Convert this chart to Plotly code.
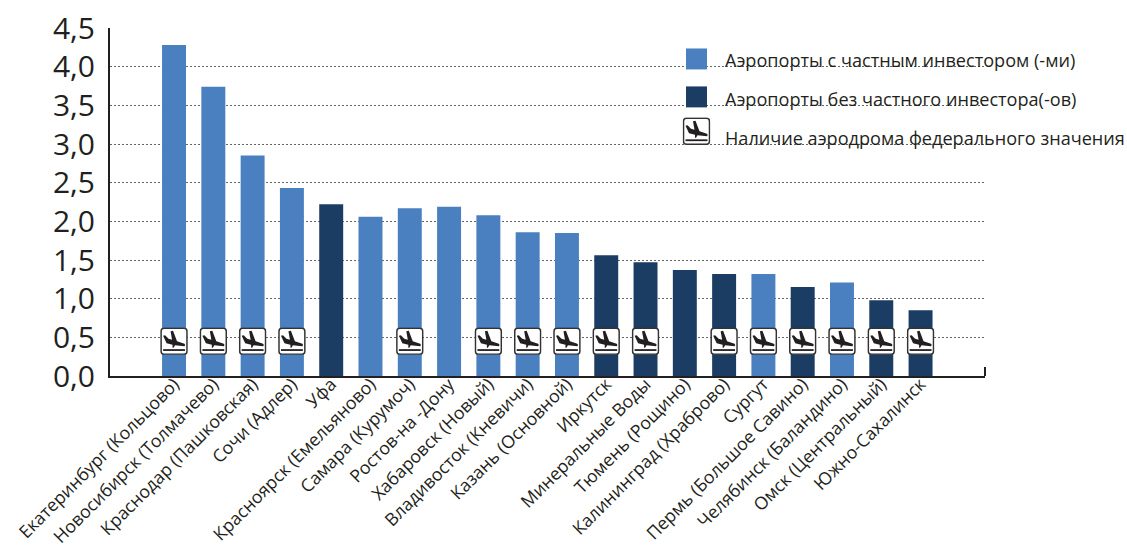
import base64
import plotly.graph_objects as go

airports = ["Екатеринбург (Кольцово)", "Новосибирск (Толмачево)", "Краснодар (Пашковская)", "Сочи (Адлер)", "Уфа",
            "Красноярск (Емельяново)", "Самара (Курумоч)", "Ростов-на -Дону", "Хабаровск (Новый)", "Владивосток (Кневичи)",
            "Казань (Основной)", "Иркутск", "Минеральные Воды", "Тюмень (Рощино)", "Калининград (Храброво)",
            "Сургут", "Пермь (Большое Савино)", "Челябинск (Баландино)", "Омск (Центральный)", "Южно-Сахалинск"]
values = [4.28, 3.74, 2.85, 2.43, 2.22, 2.06, 2.17, 2.19, 2.08, 1.86, 1.85, 1.56, 1.47, 1.37, 1.32, 1.32, 1.15, 1.21, 0.98, 0.85]
private = [1, 1, 1, 1, 0, 1, 1, 1, 1, 1, 1, 0, 0, 0, 0, 1, 0, 1, 0, 0]
federal = [1, 1, 1, 1, 0, 0, 1, 0, 1, 1, 1, 1, 1, 0, 1, 1, 1, 1, 1, 1]
y_ticks = [0, 0.5, 1, 1.5, 2, 2.5, 3, 3.5, 4, 4.5]
y_labels = ["0,0", "0,5", "1,0", "1,5", "2,0", "2,5", "3,0", "3,5", "4,0", "4,5"]
legend_labels = ["Аэропорты с частным инвестором (-ми)", "Аэропорты без частного инвестора(-ов)",
                 "Наличие аэродрома федерального значения"]

BLUE, NAVY, INK = "#4a80c0", "#1b3d63", "#231f20"
FONT = "Open Sans"

ICON = ('<svg xmlns="http://www.w3.org/2000/svg" viewBox="0 0 28 28">'
        '<rect x="1" y="1" width="26" height="26" rx="3" fill="white" stroke="#333333" stroke-width="1.5"/>'
        '<path d="M3 8.5 L5 8 L8.5 11.5 L12 12.5 L10.5 4 L13 3.5 L17 14 L24.5 16.5 '
        'Q26 18 24.5 19 L15 18 L13.5 20.5 L12.5 20.5 L12.5 17.5 L6.5 16 Z" fill="#231f20"/>'
        '<rect x="3" y="22" width="22" height="1.8" fill="#231f20"/></svg>')
ICON_URI = "data:image/svg+xml;base64," + base64.b64encode(ICON.encode()).decode()

W, H = 1127, 550
L, R, T, B = 110, 985, 27.5, 376

fig = go.Figure(go.Bar(x=airports, y=values, width=0.61,
                       marker=dict(color=[BLUE if p else NAVY for p in private], line_width=0),
                       showlegend=False, hoverinfo="x+y"))

images = [dict(source=ICON_URI, xref="x", yref="y", x=a, y=0.45, sizex=0.72, sizey=0.36,
               xanchor="center", yanchor="middle", sizing="contain", layer="above")
          for a, f in zip(airports, federal) if f]
images.append(dict(source=ICON_URI, xref="paper", yref="paper", x=(696.5 - L) / (R - L), y=1 - (131 - T) / (B - T),
                   sizex=28 / (R - L), sizey=28 / (B - T), xanchor="center", yanchor="middle",
                   sizing="contain", layer="above"))

shapes = []
for color, top in ((BLUE, 48), (NAVY, 86)):
    shapes.append(dict(type="rect", xref="paper", yref="paper", line_width=0, fillcolor=color, layer="above",
                       x0=(686 - L) / (R - L), x1=(707 - L) / (R - L),
                       y0=1 - (top + 21 - T) / (B - T), y1=1 - (top - T) / (B - T)))
shapes.append(dict(type="line", xref="paper", yref="paper", x0=1, x1=1, y0=0, y1=9 / (B - T),
                   line=dict(color=INK, width=2)))

annotations = [dict(text=t, xref="paper", yref="paper", x=(722.5 - L) / (R - L), y=1 - (yy - T) / (B - T),
                    xanchor="left", yanchor="middle", showarrow=False, align="left",
                    font=dict(family=FONT, size=18.1, color=INK))
               for t, yy in zip(legend_labels, (60, 98.5, 137.5))]

fig.update_layout(
    width=W, height=H, autosize=False, bargap=0.39,
    margin=dict(l=L, r=W - R, t=T, b=H - B, pad=0, autoexpand=False),
    paper_bgcolor="white", plot_bgcolor="white",
    font=dict(family=FONT, color=INK),
    images=images, shapes=shapes, annotations=annotations,
    xaxis=dict(type="category", categoryorder="array", categoryarray=airports, range=[-1.63, 20.64],
               tickangle=-45, tickfont=dict(size=17.7, family=FONT, color=INK), ticks="", showgrid=False,
               showline=True, linecolor=INK, linewidth=2, automargin=False, ticklen=0, ticklabelstandoff=-11,
               ticklabeloverflow="allow"),
    yaxis=dict(range=[0, 4.5], tickvals=y_ticks, ticktext=y_labels, tickfont=dict(size=30, family=FONT, color=INK),
               showgrid=True, griddash="2px,2px", gridcolor="#666666", gridwidth=1, zeroline=False,
               showline=True, linecolor=INK, linewidth=2, ticks="", automargin=False, ticklabelstandoff=7,
               ticklabeloverflow="allow"),
)
fig.write_html("out.html", config={"displayModeBar": False}, post_script="document.body.style.margin='0';")
